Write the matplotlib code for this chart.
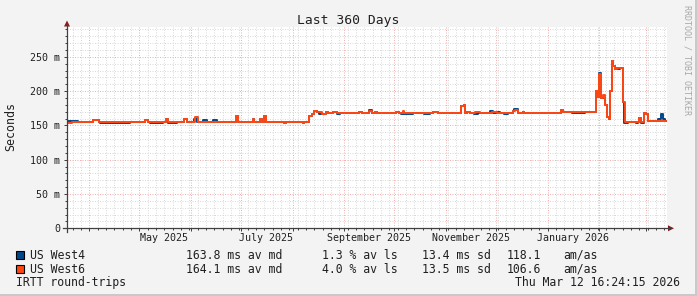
import matplotlib
matplotlib.use('Agg')
import matplotlib.pyplot as plt
import matplotlib.dates as mdates
from matplotlib.lines import Line2D
from matplotlib.patches import Polygon, Rectangle
from datetime import datetime, timedelta

W, H = 697, 296
start = datetime(2025, 3, 18, 16, 24, 15)
span_days = 360

# round-trip times (ms), step changes as day offsets from start
west4_days = [0, 6.6, 15.6, 19.2, 19.8, 37.8, 46.8, 48.6, 49.8, 57.6, 59.4, 60.6, 66, 70.2, 72,
              76.2, 78, 81.6, 84, 87.6, 90, 101.4, 102.6, 111.6, 112.2, 115.8, 117, 118.2, 119.4,
              130.2, 131.4, 141.6, 142.2, 145.2, 147, 148.2, 150, 151.2, 153.6, 155.4, 156.6,
              159.6, 162, 163.8, 175.2, 177, 181.2, 183, 184.8, 186, 197.4, 199.2, 200.4, 203.4,
              207.6, 214.2, 217.8, 219.6, 222.6, 236.4, 238.2, 238.8, 240, 241.8, 244.2, 246.6,
              253.8, 255.6, 258, 259.8, 262.2, 264.6, 267.6, 268.2, 270.6, 273.6, 274.2, 296.4,
              297.6, 303, 310.8, 317.6, 318.8, 319.4, 320.4, 322.5, 323.8, 324.9, 326, 326.8,
              327.8, 328.8, 329.8, 330.5, 332, 333.8, 334.2, 336.6, 341.4, 342.6, 343.2, 344.4,
              346.2, 347.4, 348.6, 354.6, 356.4, 357.6, 358.8, 359.4]
west4_vals = [156, 155.5, 158, 155.5, 154, 155.5, 158, 155.5, 154, 155.5, 160, 154, 155.5, 160, 155.5,
              160, 155.5, 158, 155.5, 158, 155.5, 163, 155.5, 159, 155.5, 159, 155.5, 163, 155.5,
              154, 155.5, 154, 155.5, 164, 166, 171, 169, 167, 166, 169, 168,
              169.5, 167, 168, 169.5, 168, 172, 168, 169.5, 168, 169.5, 168, 167, 166.5,
              168, 166.5, 168, 169.5, 168, 179, 180, 168, 169.5, 168, 166.5, 168,
              170.5, 168, 169.5, 168, 166.5, 168, 171.5, 173.5, 168, 169.5, 168, 172,
              169, 168, 169, 200, 192, 226.5, 189.5, 180, 162, 159, 200, 244,
              236.5, 232, 233.5, 232, 233.5, 184.5, 154, 155.5, 154, 155.5, 161, 154,
              167.5, 166, 156, 160, 166, 160, 156, 156]

west6_days = [0, 3, 15.6, 19.2, 46.8, 48.6, 59.4, 60.6, 70.2, 72, 76.8, 78.6, 101.4, 102.6,
              111.6, 112.2, 115.8, 117, 118.2, 119.4, 130.2, 131.4, 141.6, 142.2, 145.2, 147,
              148.2, 150, 153, 155.4, 156.6, 159.6, 162, 175.2, 177, 181.2, 183, 184.8, 186,
              197.4, 199.2, 201.6, 202.2, 219.6, 222.6, 236.4, 238.2, 238.8, 240, 241.8, 244.8,
              247.8, 255, 258, 267.6, 268.8, 270.6, 273.6, 274.2, 296.4, 297.6, 317.6, 318.8,
              319.4, 320.4, 321.4, 322.5, 323.8, 324.9, 326, 326.8, 327.8, 328.8, 329.8, 333.8,
              334.8, 336.6, 339, 343.2, 344.4, 346.2, 347.4, 348.6, 359.4]
west6_vals = [153, 155, 158, 155, 158, 155, 160, 155, 160, 155, 162, 155.5, 163, 155.5,
              159, 155.5, 159, 155.5, 163, 155.5, 154, 155.5, 154, 155.5, 164, 166,
              171, 169, 166, 169, 168, 169.5, 168, 169.5, 168, 171.5, 168, 169.5, 168,
              169.5, 168, 170.5, 168, 169.5, 168, 179, 180, 168, 169.5, 168, 169.5,
              168, 169.5, 168, 171.5, 173, 168, 169.5, 168, 172, 169, 200, 192,
              224.5, 189.5, 195, 180, 162, 159, 200, 244, 236.5, 232, 233.5, 184.5,
              155.5, 154.5, 155.5, 161, 155.5, 167.5, 166, 156, 156]

y_ticks = [0, 50, 100, 150, 200, 250]
y_ticklabels = ['0', '50 m', '100 m', '150 m', '200 m', '250 m']
x_labels = ['May 2025', 'July 2025', 'September 2025', 'November 2025', 'January 2026']
x_label_months = [(2025, 5), (2025, 7), (2025, 9), (2025, 11), (2026, 1)]

legend_names = ['US West4', 'US West6']
legend_colors = ['#00478A', '#FF4612']
legend_avg = ['163.8 ms av md', '164.1 ms av md']
legend_loss = ['1.3 % av ls', '4.0 % av ls']
legend_sd = ['13.4 ms sd', '13.5 ms sd']
legend_amas = ['118.1', '106.6']

MONO = 'DejaVu Sans Mono'
AXC = '#404040'
ARROW = '#8B1A1A'


def fx(x):
    return x / W


def fy(y):
    return 1 - y / H


fig = plt.figure(figsize=(W / 100, H / 100), dpi=100, facecolor='#F3F3F3')

# 3d-ish frame
fig.add_artist(Rectangle((0, 0), 1, fy(H - 2), transform=fig.transFigure, color='#C9C9C9', lw=0))
fig.add_artist(Rectangle((fx(W - 2), 0), fx(2), 1, transform=fig.transFigure, color='#C9C9C9', lw=0))

x0, x1 = 67, 667
y0, y1 = 228.3, 27
ax = fig.add_axes([fx(x0), fy(y0), fx(x1 - x0), (y0 - y1) / H])
ax.set_facecolor('white')
for s in ax.spines.values():
    s.set_visible(False)

t0 = mdates.date2num(start)
t1 = mdates.date2num(start + timedelta(days=span_days))
ax.set_xlim(t0, t1)
ax.set_ylim(0, (y0 - y1) / 0.686)

# grid positions
months = []
y, m = 2025, 4
while True:
    d = datetime(y, m, 1)
    if mdates.date2num(d) > t1:
        break
    months.append(mdates.date2num(d))
    m += 1
    if m > 12:
        m, y = 1, y + 1
minor_x = []
d = datetime(2025, 3, 22)
while mdates.date2num(d) < t1:
    minor_x.append(mdates.date2num(d))
    d += timedelta(days=5)

ax.set_xticks(months)
ax.set_xticks(minor_x, minor=True)
ax.set_xticklabels([])
ax.set_yticks(y_ticks)
ax.set_yticklabels(y_ticklabels, fontfamily=MONO, fontsize=7.2, color='#202020')
ax.set_yticks(range(0, 300, 10), minor=True)

ax.grid(which='major', color='#F3B0B0', linestyle=(0, (1, 1.5)), linewidth=0.72)
ax.grid(which='minor', color='#DADADA', linestyle=(0, (1, 1.5)), linewidth=0.72)
ax.set_axisbelow(True)
ax.tick_params(which='major', length=2.5, width=0.72, color=AXC, direction='out', pad=2.6)
ax.tick_params(which='minor', length=1.4, width=0.72, color=AXC, direction='out')

# data
w4x = [t0 + d for d in west4_days]
w6x = [t0 + d for d in west6_days]
ax.step(w4x, west4_vals, where='post', color=legend_colors[0], lw=1.4, zorder=3)
ax.step(w6x, west6_vals, where='post', color=legend_colors[1], lw=1.4, zorder=4)

# month labels
lab_y = -(241 - y0) / (y0 - y1)
for (yy, mm), lab in zip(x_label_months, x_labels):
    xc = mdates.date2num(datetime(yy, mm, 1) + timedelta(days=15))
    ax.text(xc, lab_y, lab, transform=ax.get_xaxis_transform(), ha='center', va='baseline',
            fontfamily=MONO, fontsize=7.2, color='#202020')

# axes with arrows
fig.add_artist(Line2D([fx(x0), fx(x0)], [fy(232), fy(24)], transform=fig.transFigure,
                      color=AXC, lw=0.9))
fig.add_artist(Line2D([fx(63), fx(670)], [fy(y0), fy(y0)], transform=fig.transFigure,
                      color=AXC, lw=0.9))
fig.add_artist(Polygon([[fx(64), fy(26.5)], [fx(70), fy(26.5)], [fx(67), fy(20.5)]],
                       transform=fig.transFigure, color=ARROW, lw=0))
fig.add_artist(Polygon([[fx(668), fy(y0 - 3)], [fx(668), fy(y0 + 3)], [fx(674), fy(y0)]],
                       transform=fig.transFigure, color=ARROW, lw=0))

# texts
fig.text(fx(348), fy(24), 'Last 360 Days', ha='center', va='baseline',
         fontfamily=MONO, fontsize=9.4, color='#202020')
fig.text(fx(10.5), fy(126.5), 'Seconds', rotation=90, ha='center', va='center',
         fontfamily=MONO, fontsize=8.4, color='#202020')
fig.text(fx(687), fy(60), 'RRDTOOL / TOBI OETIKER', rotation=-90, ha='center', va='center',
         fontfamily=MONO, fontsize=6.0, color='#A8A8A8')

rows = [259, 272.7]
for i in range(2):
    yb = rows[i]
    fig.add_artist(Rectangle((fx(16), fy(yb)), fx(8), 8 / H, transform=fig.transFigure,
                             facecolor=legend_colors[i], edgecolor='black', lw=0.8))
    for xp, s in [(30, legend_names[i]), (186, legend_avg[i]), (321.7, legend_loss[i]),
                  (421.7, legend_sd[i]), (506.7, legend_amas[i]), (563.3, 'am/as')]:
        fig.text(fx(xp), fy(yb), s, ha='left', va='baseline', fontfamily=MONO,
                 fontsize=8.3, color='#202020')
fig.text(fx(16), fy(285.7), 'IRTT round-trips', ha='left', va='baseline', fontfamily=MONO,
         fontsize=8.3, color='#202020')
fig.text(fx(680), fy(285.7), 'Thu Mar 12 16:24:15 2026', ha='right', va='baseline',
         fontfamily=MONO, fontsize=8.3, color='#202020')

fig.savefig('out.png', dpi=100, facecolor=fig.get_facecolor())
